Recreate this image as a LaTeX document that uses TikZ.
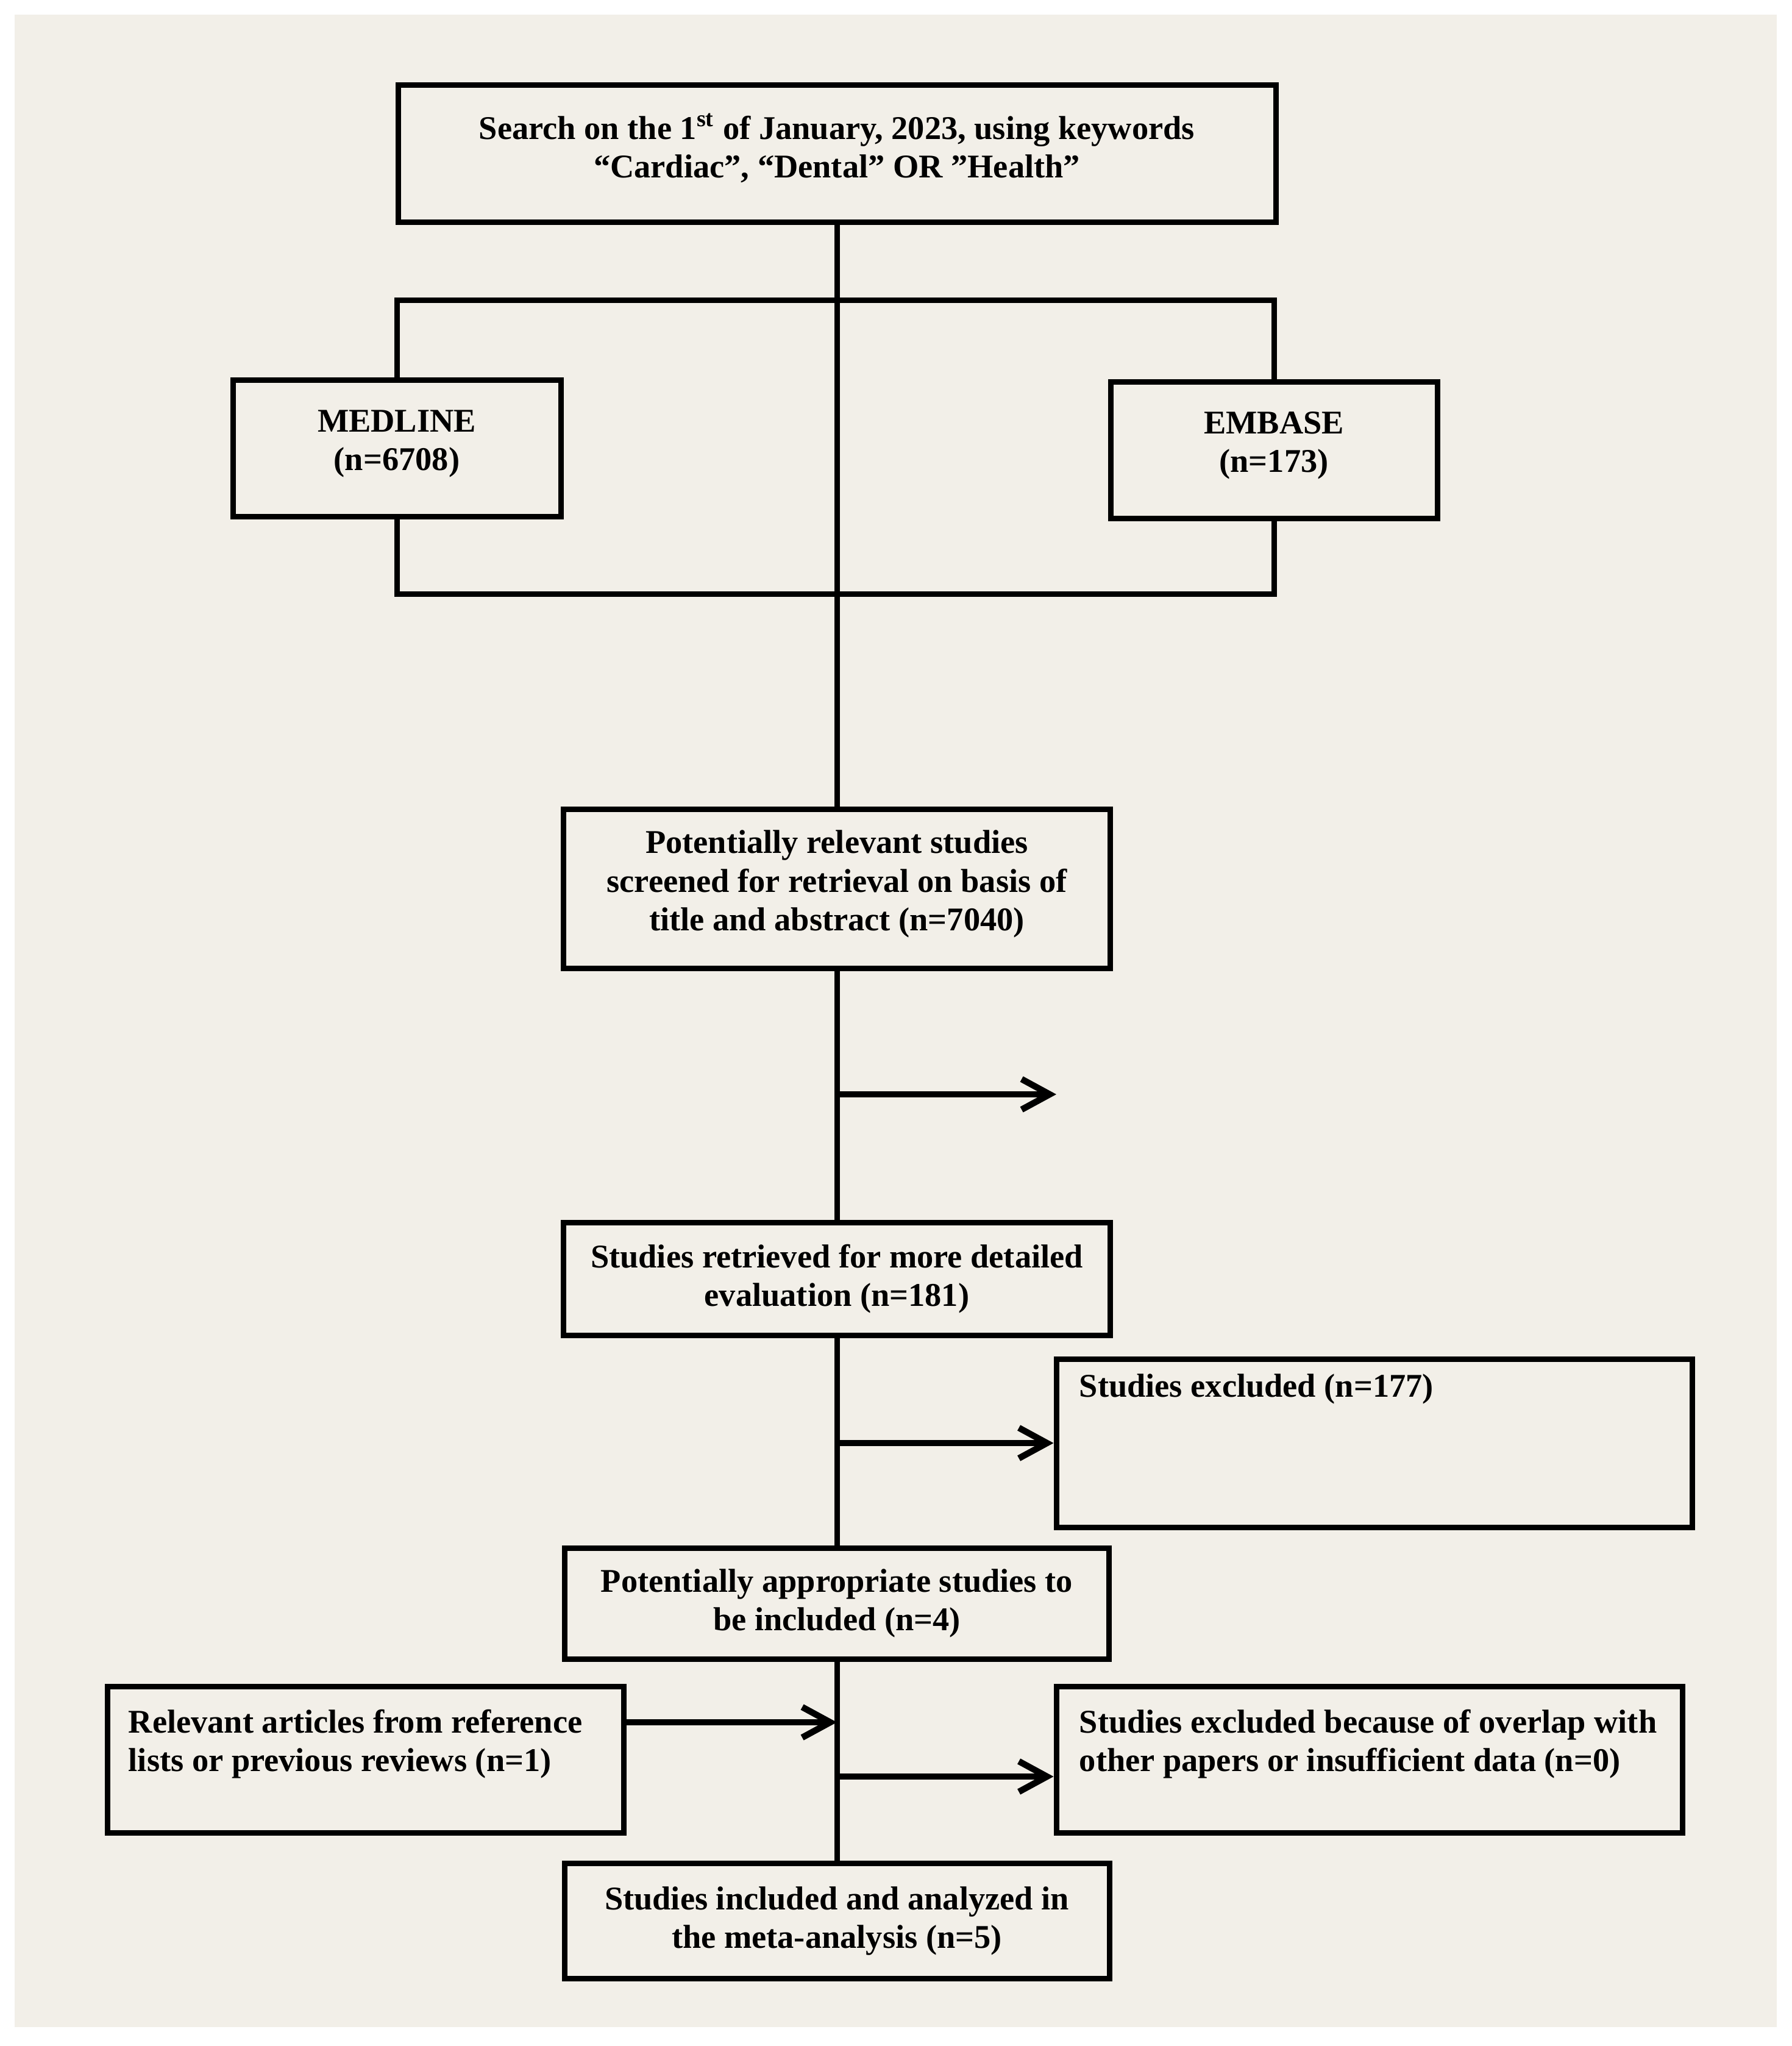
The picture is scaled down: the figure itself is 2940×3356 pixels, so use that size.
\documentclass[tikz,border=0pt]{standalone}
\usepackage{fontspec}
\setmainfont{Liberation Serif}
\usetikzlibrary{arrows.meta}
\definecolor{bgbeige}{RGB}{242,239,232}
\begin{document}
\begin{tikzpicture}[x=0.25pt, y=-0.25pt,
  textfont/.style={font=\fontsize{13.6pt}{15.8pt}\selectfont\bfseries},
  box/.style={draw, line width=2.25pt, inner sep=0pt, align=center, textfont},
  ctxt/.style={inner sep=0pt, align=center, textfont},
  txt/.style={inner sep=0pt, align=left, anchor=north west, textfont},
  conn/.style={line width=2.25pt},
  arr/.style={line width=2.6pt, -{Straight Barb[length=11.5pt, width=12.5pt, line width=2.6pt]}}]
\path[use as bounding box] (0,0) rectangle (2940,3356);
\fill[white] (0,0) rectangle (2940,3356);
\fill[bgbeige] (24,24) rectangle (2915,3325);

\node[box, minimum width=360pt, minimum height=56.25pt] (top) at (1373,252) {};
\node[ctxt] (topt) at (1373,243)
  {Search on the 1\textsuperscript{st} of January, 2023, using keywords\\“Cardiac”, “Dental” OR ”Health”};
\node[box, minimum width=134.5pt, minimum height=56pt] (medline) at (651,735) {};
\node[ctxt] (medlinet) at (651,728) {MEDLINE\\(n=6708)};
\node[box, minimum width=134pt, minimum height=56pt] (embase) at (2090,738) {};
\node[ctxt] (embaset) at (2090,731) {EMBASE\\(n=173)};
\coordinate (bt) at (1373,492);
\coordinate (bb) at (1373,974);
\draw[conn] (medline.north) |- (bt) -| (embase.north);
\draw[conn] (medline.south) |- (bb) -| (embase.south);

\node[box, minimum width=224.25pt, minimum height=65.25pt] (screen) at (1373,1458) {};
\node[ctxt] (screent) at (1373,1450)
  {Potentially relevant studies\\screened for retrieval on basis of\\title and abstract (n=7040)};
\draw[conn] (top.south) -- (screen.north);

\node[box, minimum width=224.25pt, minimum height=46.25pt] (retr) at (1373,2098)
  {Studies retrieved for more detailed\\evaluation (n=181)};
\draw[conn] (screen.south) -- (retr.north);
\coordinate (a1s) at (1373,1795);
\coordinate (a1e) at (1733,1795);
\draw[arr] (a1s) -- (a1e);

\node[box, minimum width=260.75pt, minimum height=69pt] (excl) at (2254.5,2367) {};
\node[txt] (exclt) at (1770,2253) {Studies excluded (n=177)};

\node[box, minimum width=223.25pt, minimum height=45.5pt] (appr) at (1373,2630)
  {Potentially appropriate studies to\\be included (n=4)};
\draw[conn] (retr.south) -- (appr.north);
\draw[arr] (retr.south |- excl.west) -- (excl.west);

\node[box, minimum width=211.75pt, minimum height=60pt] (rel) at (599.5,2886) {};
\node[txt] (relt) at (210,2803) {Relevant articles from reference\\lists or previous reviews (n=1)};
\node[box, minimum width=256.75pt, minimum height=60pt] (ovl) at (2246.5,2886) {};
\node[txt] (ovlt) at (1770,2803) {Studies excluded because of overlap with\\other papers or insufficient data (n=0)};

\node[box, minimum width=223.5pt, minimum height=47.25pt] (final) at (1373,3151)
  {Studies included and analyzed in\\the meta-analysis (n=5)};
\draw[conn] (appr.south) -- (final.north);
\coordinate (r3) at (1373,2825);
\draw[arr] (rel.east |- r3) -- (r3);
\coordinate (r4) at (1373,2914);
\draw[arr] (r4) -- (ovl.west |- r4);
\end{tikzpicture}
\end{document}
